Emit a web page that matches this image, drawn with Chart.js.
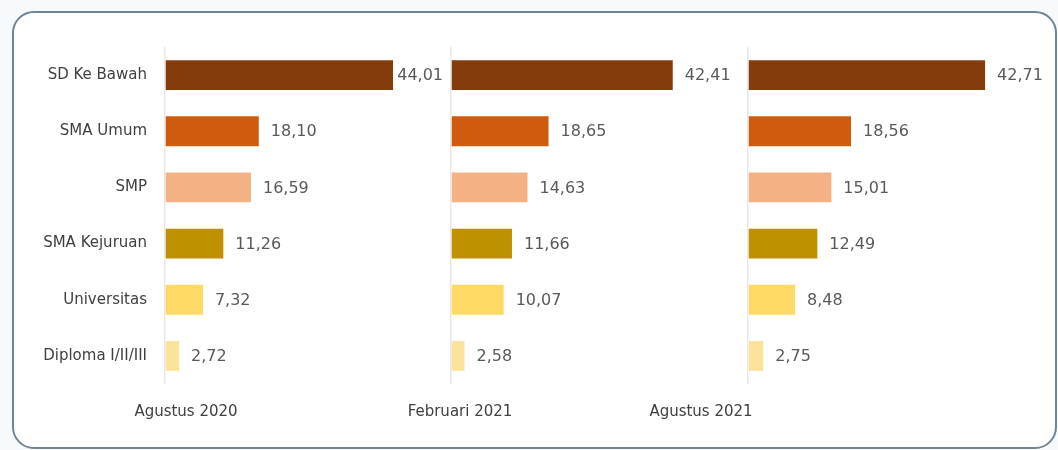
<!DOCTYPE html>
<html>
<head>
<meta charset="utf-8">
<script src="https://cdn.jsdelivr.net/npm/chart.js@4.4.1/dist/chart.umd.min.js"></script>
<style>
  html, body { margin: 0; padding: 0; background: #f7fafc; }
  #frame {
    position: absolute; left: 12px; top: 11px; width: 1045px; height: 438px;
    box-sizing: border-box; border: 2px solid #6f8596; border-radius: 22px; background: #fff;
  }
  #wrap { position: absolute; left: 0; top: 0; width: 1058px; height: 450px; }
</style>
</head>
<body>
<div id="frame"></div>
<div id="wrap"><canvas id="chart"></canvas></div>
<script>
const categories = ['SD Ke Bawah', 'SMA Umum', 'SMP', 'SMA Kejuruan', 'Universitas', 'Diploma I/II/III'];
const periods = ['Agustus 2020', 'Februari 2021', 'Agustus 2021'];
const aug2020 = [44.01, 18.10, 16.59, 11.26, 7.32, 2.72];
const feb2021 = [42.41, 18.65, 14.63, 11.66, 10.07, 2.58];
const aug2021 = [42.71, 18.56, 15.01, 12.49, 8.48, 2.75];

const barColors = ['#843c0c', '#cf5b0e', '#f4b183', '#bf9000', '#ffd966', '#fbe39a'];

// where the period caption sits, relative to the left edge of each panel
const captionShift = [21, 9, -47];

const fmt = v => v.toFixed(2).replace('.', ',');

// value labels at the end of every bar
const valueLabels = {
  id: 'valueLabels',
  afterDatasetsDraw(chart) {
    const ctx = chart.ctx;
    const last = chart.data.datasets.length - 1;
    ctx.save();
    ctx.font = '16px "DejaVu Sans"';
    ctx.fillStyle = '#595959';
    ctx.textBaseline = 'middle';
    chart.data.datasets.forEach((ds, i) => {
      const meta = chart.getDatasetMeta(i);
      const scale = chart.scales[ds.xAxisID];
      meta.data.forEach((bar, j) => {
        const txt = fmt(ds.data[j]);
        const w = ctx.measureText(txt).width;
        // keep the label out of the next panel
        const limit = i < last ? scale.right - w - 8 : Infinity;
        ctx.fillText(txt, Math.min(bar.x + 12, limit), bar.y + 1);
      });
    });
    ctx.restore();
  }
};

// period captions under each panel
const periodCaptions = {
  id: 'periodCaptions',
  afterDraw(chart) {
    const ctx = chart.ctx;
    ctx.save();
    ctx.font = '15px "DejaVu Sans"';
    ctx.fillStyle = '#404040';
    ctx.textAlign = 'center';
    ctx.textBaseline = 'middle';
    periods.forEach((p, i) => {
      const scale = chart.scales['x' + i];
      ctx.fillText(p, scale.left + captionShift[i], chart.chartArea.bottom + 28);
    });
    ctx.restore();
  }
};

const panelAxis = (max, weight) => ({
  type: 'linear',
  position: 'bottom',
  stack: 'panels',
  stackWeight: weight,
  min: 0,
  max: max,
  ticks: { display: false },
  border: { display: false },
  grid: {
    drawTicks: false,
    color: c => (c.tick && c.tick.value === 0 ? '#e8e8e8' : 'rgba(0,0,0,0)'),
    lineWidth: 1.5
  }
});

new Chart(document.getElementById('chart'), {
  type: 'bar',
  data: {
    labels: categories,
    datasets: [
      { label: periods[0], data: aug2020, xAxisID: 'x0', backgroundColor: barColors },
      { label: periods[1], data: feb2021, xAxisID: 'x1', backgroundColor: barColors },
      { label: periods[2], data: aug2021, xAxisID: 'x2', backgroundColor: barColors }
    ]
  },
  options: {
    indexAxis: 'y',
    responsive: true,
    maintainAspectRatio: false,
    animation: false,
    datasets: { bar: { grouped: false, barPercentage: 0.53, categoryPercentage: 1 } },
    layout: { padding: { top: 47, bottom: 66, left: 0, right: 18 } },
    scales: {
      y: {
        afterFit: s => { s.width = 165; },
        grid: { display: false, drawTicks: false },
        border: { display: false },
        ticks: { padding: 18, color: '#404040', font: { family: 'DejaVu Sans', size: 15 } }
      },
      x0: panelAxis(55.2, 286),
      x1: panelAxis(56.8, 297),
      x2: panelAxis(52.6, 292)
    },
    plugins: {
      legend: { display: false },
      tooltip: { enabled: false }
    }
  },
  plugins: [valueLabels, periodCaptions]
});
</script>
</body>
</html>
